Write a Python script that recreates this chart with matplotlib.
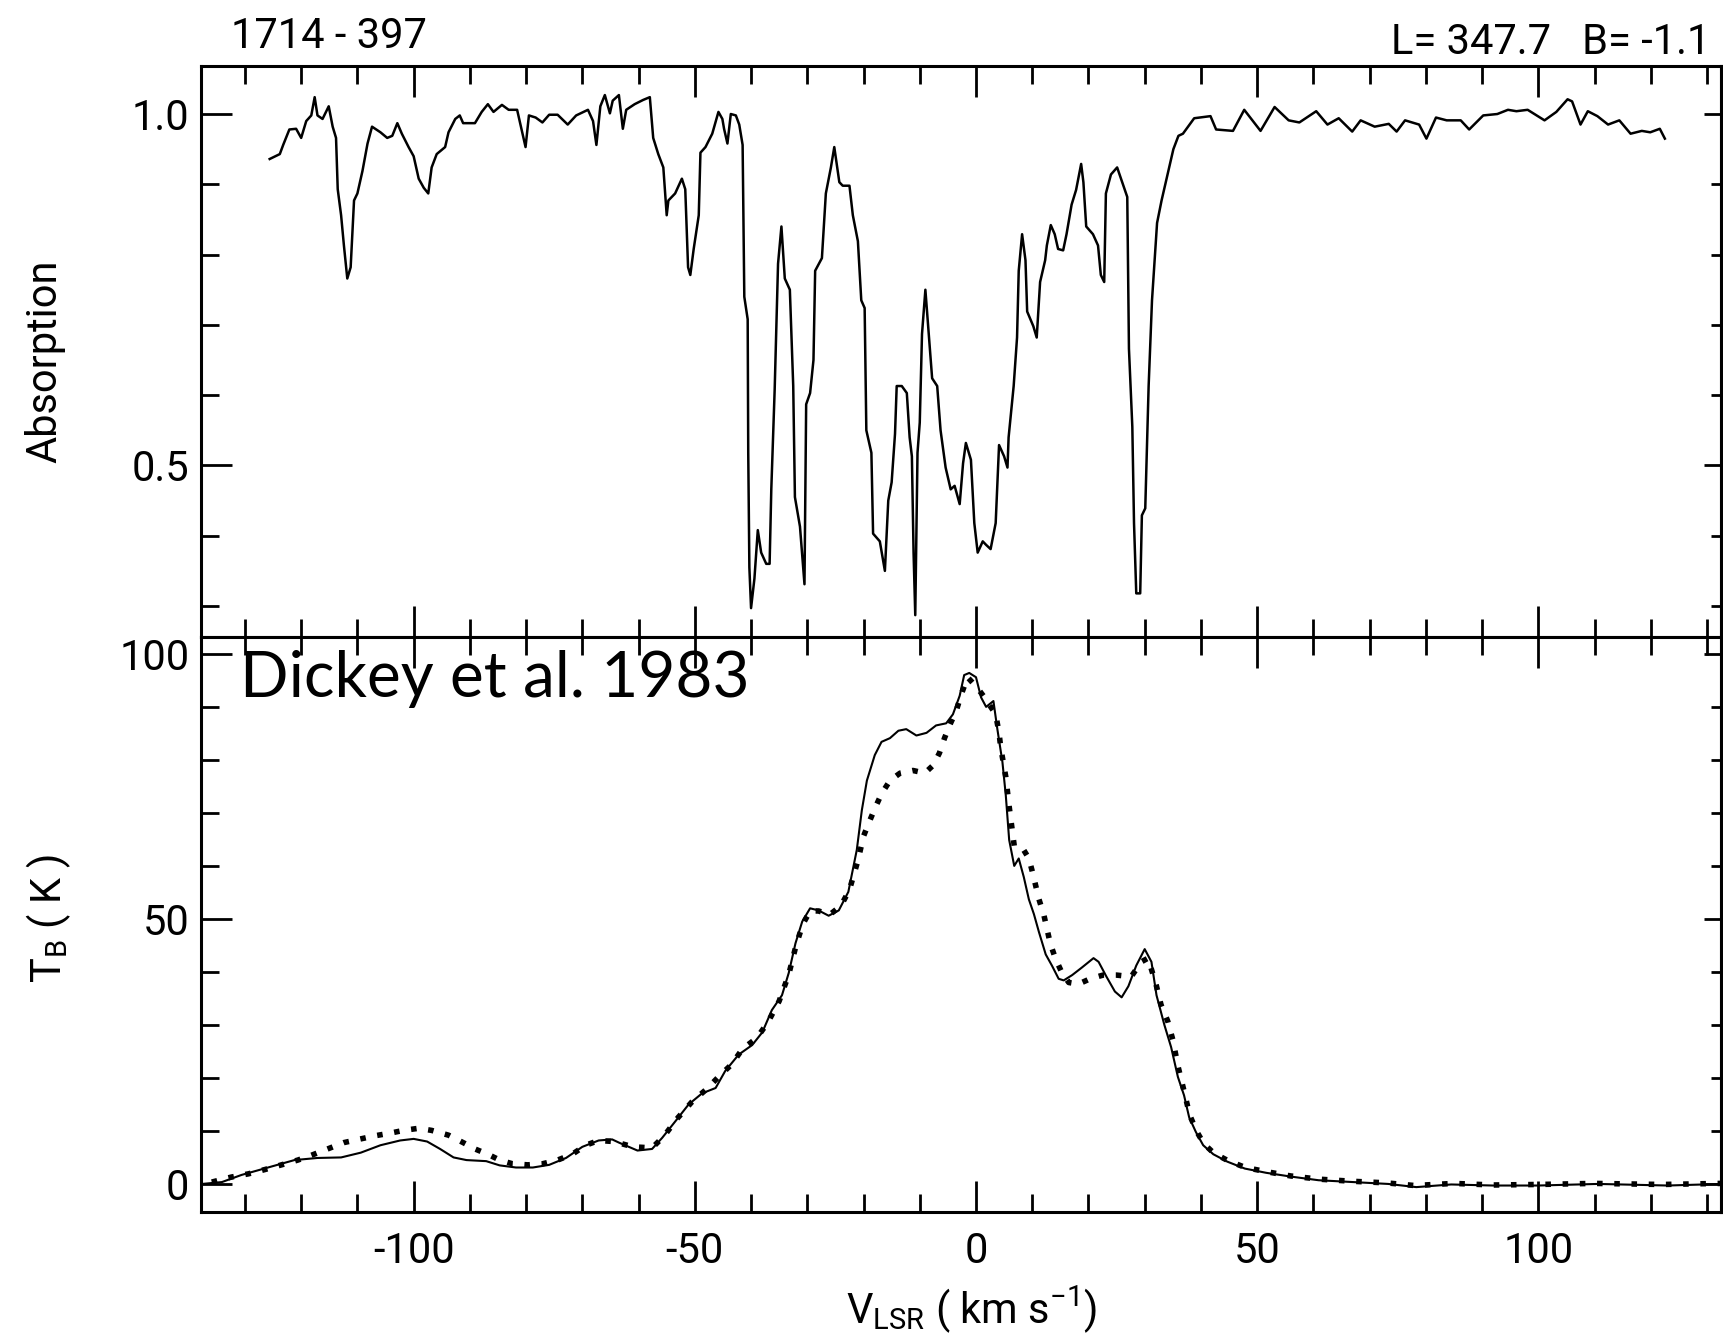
import matplotlib
matplotlib.use("Agg")
import matplotlib.pyplot as plt
from matplotlib.ticker import MultipleLocator, FixedLocator

plt.rcParams['font.family'] = ['Roboto', 'DejaVu Sans']
plt.rcParams['font.weight'] = 'normal'
plt.rcParams['axes.unicode_minus'] = False
plt.rcParams['mathtext.default'] = 'regular'

# absorption spectrum (e^-tau)
abs_v = [-125.6, -123.8, -123.2, -122.1, -120.9, -120.0, -119.1, -118.2, -117.6, -117.1,
         -116.2, -115.1, -114.4, -113.8, -113.5, -112.9, -112.4, -111.8, -111.2, -110.6,
         -110.0, -109.1, -108.2, -107.4, -105.9, -104.7, -103.8, -102.9, -102.1, -100.9,
         -100.0, -99.1, -98.2, -97.4, -96.8, -95.9, -94.4, -93.8, -92.6, -91.8,
         -91.2, -89.1, -87.9, -86.8, -85.8, -84.3, -83.1, -81.6, -80.7, -80.1,
         -79.5, -78.3, -77.1, -75.9, -74.4, -72.6, -71.1, -69.0, -68.1, -67.5,
         -66.8, -66.0, -65.1, -64.6, -63.5, -62.8, -62.2, -60.7, -59.2, -58.0,
         -57.4, -56.5, -55.6, -55.0, -54.7, -53.5, -52.3, -51.7, -51.2, -50.8,
         -50.2, -49.3, -49.0, -48.1, -46.9, -45.8, -45.1, -44.8, -44.2, -43.6,
         -42.7, -42.1, -41.5, -41.2, -40.6, -40.5, -40.3, -40.0, -39.4, -38.8,
         -38.2, -37.3, -36.7, -36.4, -35.8, -35.2, -34.6, -34.0, -33.1, -32.5,
         -32.2, -31.3, -30.5, -30.2, -29.5, -28.9, -28.6, -27.4, -27.1, -26.7,
         -25.8, -25.2, -24.3, -23.7, -22.5, -21.9, -21.0, -20.4, -19.8, -19.5,
         -18.6, -18.3, -17.1, -16.2, -15.6, -15.0, -14.4, -14.1, -13.2, -12.3,
         -11.8, -11.4, -11.1, -10.8, -10.4, -10.0, -9.6, -9.0, -8.4, -7.8,
         -6.9, -6.3, -5.4, -4.5, -3.8, -2.9, -2.3, -1.8, -0.9, -0.3,
         0.3, 1.2, 1.8, 2.6, 3.5, 4.1, 5.0, 5.6, 5.8, 6.7,
         7.3, 7.6, 8.2, 8.8, 9.1, 10.2, 10.8, 11.4, 12.3, 12.6,
         13.3, 14.0, 14.6, 15.5, 16.1, 17.0, 17.8, 18.7, 19.1, 19.6,
         20.8, 21.7, 22.2, 22.8, 23.1, 24.0, 25.1, 26.0, 26.9, 27.2,
         27.8, 28.1, 28.5, 29.2, 29.5, 30.1, 30.7, 31.3, 32.2, 33.0,
         34.2, 35.1, 36.0, 36.8, 38.8, 41.7, 42.7, 45.7, 47.7, 50.6,
         53.1, 55.6, 57.5, 60.5, 62.5, 64.5, 66.9, 68.4, 70.9, 73.4,
         74.8, 76.3, 78.8, 80.1, 81.8, 83.7, 86.2, 87.7, 90.2, 92.7,
         94.6, 96.1, 98.1, 101.1, 103.2, 105.2, 106.0, 107.5, 108.8, 110.5,
         112.4, 114.4, 116.4, 118.4, 119.9, 121.6, 122.5]
abs_val = [0.936, 0.943, 0.956, 0.978, 0.979, 0.966, 0.990, 0.998, 1.024, 0.998,
           0.993, 1.011, 0.982, 0.966, 0.893, 0.856, 0.813, 0.766, 0.782, 0.877,
           0.887, 0.919, 0.958, 0.982, 0.974, 0.966, 0.969, 0.987, 0.972, 0.953,
           0.940, 0.908, 0.895, 0.887, 0.924, 0.943, 0.953, 0.974, 0.993, 0.998,
           0.987, 0.987, 1.003, 1.014, 1.003, 1.013, 1.006, 1.006, 0.974, 0.953,
           0.998, 0.995, 0.988, 0.999, 0.999, 0.985, 0.998, 1.006, 0.990, 0.956,
           1.011, 1.027, 1.001, 1.019, 1.027, 0.979, 1.006, 1.014, 1.020, 1.024,
           0.966, 0.943, 0.924, 0.856, 0.877, 0.887, 0.908, 0.893, 0.782, 0.771,
           0.808, 0.856, 0.945, 0.953, 0.972, 1.003, 0.993, 0.979, 0.958, 1.000,
           0.998, 0.985, 0.956, 0.740, 0.708, 0.518, 0.355, 0.297, 0.339, 0.408,
           0.376, 0.360, 0.360, 0.466, 0.608, 0.787, 0.840, 0.766, 0.750, 0.613,
           0.455, 0.413, 0.331, 0.587, 0.603, 0.650, 0.777, 0.795, 0.835, 0.887,
           0.924, 0.953, 0.903, 0.898, 0.898, 0.856, 0.819, 0.735, 0.724, 0.550,
           0.518, 0.403, 0.392, 0.350, 0.450, 0.476, 0.545, 0.613, 0.613, 0.603,
           0.540, 0.513, 0.376, 0.287, 0.518, 0.561, 0.687, 0.750, 0.687, 0.624,
           0.613, 0.550, 0.497, 0.466, 0.471, 0.445, 0.503, 0.532, 0.508, 0.418,
           0.376, 0.392, 0.387, 0.381, 0.418, 0.529, 0.513, 0.497, 0.540, 0.613,
           0.682, 0.777, 0.829, 0.792, 0.719, 0.698, 0.682, 0.761, 0.792, 0.813,
           0.842, 0.829, 0.808, 0.806, 0.829, 0.871, 0.892, 0.929, 0.903, 0.840,
           0.829, 0.813, 0.771, 0.761, 0.887, 0.914, 0.924, 0.903, 0.882, 0.666,
           0.555, 0.418, 0.318, 0.318, 0.429, 0.439, 0.613, 0.735, 0.845, 0.877,
           0.919, 0.950, 0.969, 0.972, 0.994, 0.997, 0.978, 0.976, 1.006, 0.976,
           1.010, 0.991, 0.988, 1.004, 0.985, 0.994, 0.975, 0.991, 0.982, 0.986,
           0.975, 0.991, 0.985, 0.965, 0.995, 0.991, 0.991, 0.978, 0.998, 1.000,
           1.006, 1.004, 1.006, 0.991, 1.003, 1.021, 1.018, 0.985, 1.004, 0.997,
           0.985, 0.991, 0.972, 0.976, 0.974, 0.979, 0.965]

# emission: solid line
tb_v = [-137.6, -134.1, -130.6, -125.9, -121.2, -117.1, -112.9, -109.4, -105.9, -102.4,
        -100.0, -97.6, -95.3, -92.9, -90.6, -87.1, -84.7, -81.8, -78.8, -75.9,
        -72.9, -70.0, -67.1, -64.7, -63.5, -60.2, -57.6, -55.8, -53.4, -51.1,
        -48.7, -46.3, -44.6, -42.2, -39.8, -38.0, -36.3, -34.5, -33.3, -32.1,
        -30.9, -29.5, -28.0, -26.2, -24.4, -22.7, -21.2, -20.3, -19.4, -18.0,
        -16.8, -15.3, -13.8, -12.4, -10.6, -8.8, -7.1, -5.3, -4.1, -2.9,
        -2.1, -1.2, 0.0, 0.9, 1.8, 3.1, 3.8, 4.7, 5.3, 5.9,
        6.8, 7.6, 8.5, 9.4, 10.3, 11.2, 12.4, 13.5, 14.7, 15.6,
        17.1, 18.8, 20.9, 21.8, 23.2, 24.7, 25.9, 27.1, 28.5, 30.0,
        31.2, 32.1, 33.5, 34.7, 35.9, 37.0, 37.9, 39.1, 40.4, 42.2,
        44.7, 47.8, 51.6, 55.9, 60.9, 67.1, 73.3, 78.3, 84.5, 91.9,
        100.0, 110.6, 123.0, 132.5]
tb_solid = [0.0, 0.35, 1.7, 3.1, 4.5, 4.9, 5.0, 5.9, 7.3, 8.2,
            8.5, 8.0, 6.6, 5.0, 4.5, 4.3, 3.5, 3.1, 3.1, 3.6,
            4.9, 7.0, 8.2, 8.4, 7.8, 6.3, 6.6, 8.7, 11.9, 15.0,
            17.1, 18.1, 21.3, 24.4, 26.2, 28.6, 32.8, 35.6, 39.8, 45.4,
            49.5, 52.0, 51.6, 50.6, 51.6, 55.1, 63.0, 70.5, 76.1, 80.9,
            83.4, 84.1, 85.5, 85.8, 84.6, 85.1, 86.5, 86.9, 88.6, 92.1,
            96.0, 96.4, 95.6, 91.8, 90.0, 91.1, 85.8, 79.6, 73.3, 64.9,
            60.0, 61.4, 57.9, 53.7, 50.9, 47.5, 43.3, 41.2, 38.7, 38.4,
            39.4, 40.8, 42.6, 41.9, 39.1, 36.3, 35.2, 37.3, 41.2, 44.3,
            41.9, 35.6, 30.0, 25.8, 20.2, 16.7, 12.6, 9.8, 7.3, 5.6,
            4.2, 2.9, 2.1, 1.4, 0.7, 0.35, 0.0, -0.6, -0.1, -0.3,
            -0.3, 0.0, -0.3, 0.0]

# emission: dotted line
dot_v = [-135.9, -132.4, -129.4, -126.5, -123.5, -120.6, -118.2, -115.3, -112.4, -109.4,
         -106.8, -104.1, -101.8, -99.1, -96.8, -93.8, -91.2, -89.1, -86.8, -84.7,
         -82.4, -79.7, -77.1, -74.4, -71.8, -69.4, -67.1, -64.4, -61.0, -57.6,
         -55.5, -53.0, -50.5, -48.0, -45.5, -43.5, -41.5, -39.0, -37.0, -35.0,
         -33.3, -32.0, -30.8, -29.5, -28.0, -26.0, -24.0, -22.5, -21.0, -20.0,
         -19.1, -18.0, -16.8, -15.3, -13.5, -11.2, -9.1, -7.6, -6.5, -5.6,
         -4.7, -3.5, -2.6, -1.5, 0.3, 1.5, 3.5, 4.1, 4.4, 5.3,
         5.9, 6.8, 8.2, 9.4, 10.0, 11.2, 12.1, 13.2, 14.1, 15.3,
         16.5, 18.2, 20.3, 22.6, 25.0, 27.6, 29.4, 30.6, 32.1, 32.9,
         34.1, 35.0, 35.9, 37.0, 38.0, 39.2, 40.5, 42.3, 44.8, 47.9,
         51.7, 56.0, 61.0, 67.0, 73.0, 78.0, 85.0, 92.0, 100.0, 110.0,
         122.0, 132.5]
tb_dot = [0.35, 1.3, 1.9, 2.7, 3.6, 4.5, 5.4, 6.6, 7.8, 8.5,
          9.1, 9.6, 10.1, 10.5, 10.1, 9.2, 7.8, 6.6, 5.6, 4.5,
          3.8, 3.6, 3.8, 4.5, 5.6, 7.3, 8.2, 8.0, 7.0, 6.8,
          9.0, 12.5, 15.5, 17.8, 20.5, 22.5, 25.5, 27.5, 30.5, 34.5,
          39.5, 45.0, 49.0, 51.5, 51.5, 50.8, 52.5, 55.5, 61.0, 65.6,
          68.0, 70.8, 73.6, 76.1, 77.5, 78.0, 77.5, 79.0, 81.3, 84.1,
          86.5, 89.3, 92.4, 95.6, 93.5, 91.8, 88.6, 85.1, 82.3, 76.8,
          71.2, 63.8, 63.5, 61.4, 59.0, 53.7, 50.6, 45.4, 42.6, 39.8,
          38.0, 37.7, 38.7, 39.4, 39.4, 39.1, 41.9, 42.6, 37.3, 33.8,
          30.7, 27.2, 22.3, 17.5, 13.0, 10.0, 7.6, 5.8, 4.4, 3.1,
          2.3, 1.5, 0.9, 0.5, 0.2, -0.3, 0.1, -0.2, -0.1, 0.1,
          -0.1, 0.1]

vlim = (-137.8, 132.5)
fs = 30

fig = plt.figure(figsize=(17.23, 13.40), dpi=100)
ax1 = fig.add_axes([0.1167, 0.5243, 0.8822, 0.4268])
ax2 = fig.add_axes([0.1167, 0.0955, 0.8822, 0.4288])

ax1.plot(abs_v, abs_val, color='black', lw=1.8)
ax2.plot(tb_v, tb_solid, color='black', lw=1.5)
ax2.plot(dot_v, tb_dot, color='black', lw=4.0, linestyle=(0, (1, 2.1)))

ax1.set_xlim(vlim)
ax1.set_ylim(0.2553, 1.069)
ax2.set_xlim(vlim)
ax2.set_ylim(-5.3, 103.1)

ax1.yaxis.set_major_locator(FixedLocator([0.5, 1.0]))
ax1.yaxis.set_minor_locator(MultipleLocator(0.1))
ax1.set_yticklabels(['0.5', '1.0'])
ax2.yaxis.set_major_locator(MultipleLocator(50))
ax2.yaxis.set_minor_locator(MultipleLocator(10))

for ax in (ax1, ax2):
    ax.xaxis.set_major_locator(MultipleLocator(50))
    ax.xaxis.set_minor_locator(MultipleLocator(10))
    for s in ax.spines.values():
        s.set_linewidth(2.2)
    ax.tick_params(which='both', direction='in', top=True, bottom=True, left=True,
                   right=False, width=2.0, labelsize=fs)
    ax.tick_params(which='major', length=22)
    ax.tick_params(which='minor', length=13)
    ax.tick_params(axis='y', pad=8.5)
    # shorter ticks on the right-hand side
    sec = ax.secondary_yaxis('right')
    sec.yaxis.set_major_locator(ax.yaxis.get_major_locator())
    sec.yaxis.set_minor_locator(ax.yaxis.get_minor_locator())
    sec.tick_params(which='both', direction='in', width=2.0, labelright=False)
    sec.tick_params(which='major', length=12)
    sec.tick_params(which='minor', length=7)
    sec.spines['right'].set_linewidth(2.2)

ax1.tick_params(axis='x', labelbottom=False)
ax2.tick_params(axis='x', pad=14)

fig.text(0.0261, 0.7306, 'Absorption', rotation=90, ha='center', va='center', fontsize=fs)
fig.text(0.0284, 0.3149, 'T$_{B}$ ( K )', rotation=90, ha='center', va='center', fontsize=fs)
fig.text(0.564, 0.023, 'V$_{LSR}$ ( km s$^{-1}$)', ha='center', va='center', fontsize=fs)
fig.text(0.1341, 0.9644, '1714 - 397', ha='left', va='baseline', fontsize=fs)
fig.text(0.9925, 0.9597, 'L= 347.7   B= -1.1', ha='right', va='baseline', fontsize=fs)
fig.text(0.1393, 0.4799, 'Dickey et al. 1983', ha='left', va='baseline', fontsize=46,
         family=['Lato', 'DejaVu Sans'], weight='normal')

fig.savefig('out.png', dpi=100)
